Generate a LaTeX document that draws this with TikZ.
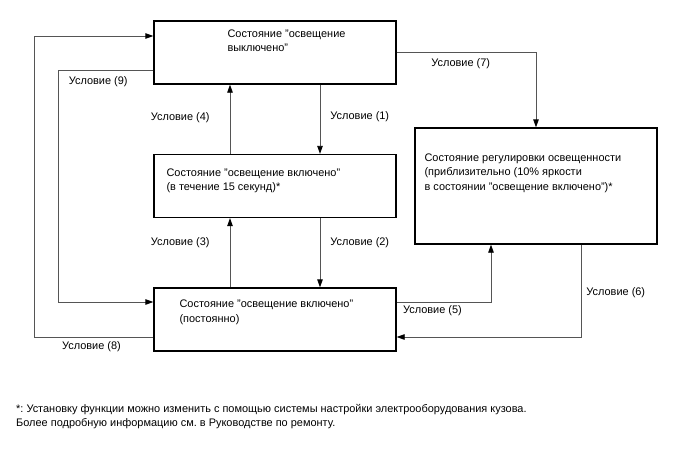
\documentclass[tikz,border=0pt]{standalone}
\usepackage{fontspec}
\setmainfont{Liberation Sans}
\usepackage{tikz}
\usetikzlibrary{positioning,arrows.meta}
\definecolor{wire}{HTML}{555555}
\frenchspacing

\begin{document}
\begin{tikzpicture}[x=1pt,y=-1pt,
  font=\fontsize{10.95}{14.5}\selectfont,
  >={Triangle[length=8pt,width=5.5pt,color=black]},
  state/.style={draw=black,line width=1.3pt,minimum width=242pt,minimum height=63pt,inner sep=0pt},
  stxt/.style={anchor=north west,align=left,inner sep=0pt},
  trans/.style={draw=wire,line width=0.8pt},
  cond/.style={inner sep=0pt},
  ]
  \useasboundingbox (0,0) rectangle (688,463);

  % ---- states ----
  \node[state] (off)  at (275,52.5)  {};
  \node[state] (on15) at (275,186)   {};
  \node[state] (on)   at (275,319.5) {};
  \node[state,minimum height=116pt] (dim) at (536,186) {};

  \node[stxt] (offtxt)  at ([xshift=74pt,yshift=-9pt]off.north west)
     {Состояние "освещение\\выключено"};
  \node[stxt] (on15txt) at ([xshift=13pt,yshift=-14.5pt]on15.north west)
     {Состояние "освещение включено"\\(в течение 15 секунд)*};
  \node[stxt] (ontxt)   at ([xshift=26pt,yshift=-12.5pt]on.north west)
     {Состояние "освещение включено"\\(постоянно)};
  \node[stxt] (dimtxt)  at ([xshift=10pt,yshift=-26pt]dim.north west)
     {Состояние регулировки освещенности\\(приблизительно (10\% яркости\\в состоянии "освещение включено")*};

  % ---- vertical transitions ----
  \draw[trans,->] ([xshift=45pt]off.south) -- node[cond,right=10pt,pos=0.46]{Условие (1)} ([xshift=45pt]on15.north);
  \draw[trans,->] ([xshift=-45pt]on15.north) -- node[cond,left=20pt,pos=0.53]{Условие (4)} ([xshift=-45pt]off.south);
  \draw[trans,->] ([xshift=45pt]on15.south) -- node[cond,right=10pt,pos=0.36]{Условие (2)} ([xshift=45pt]on.north);
  \draw[trans,->] ([xshift=-45pt]on.north) -- node[cond,left=20pt,pos=0.64]{Условие (3)} ([xshift=-45pt]on15.south);

  % ---- outer loops ----
  \draw[trans,->] ([yshift=-17.5pt]off.west) -- node[cond,below=6pt,pos=0.58]{Условие (9)} ++(-95,0)
        |- ([yshift=17.5pt]on.west);
  \draw[trans,->] ([yshift=-17.5pt]on.west) -- node[cond,below=4pt,pos=0.52]{Условие (8)} ++(-119,0)
        |- ([yshift=16.5pt]off.west);

  % ---- dimming state ----
  \draw[trans,->] (off.east) -| node[cond,below=5.5pt,pos=0.23]{Условие (7)} (dim.north);
  \draw[trans,->] ([yshift=17.5pt]on.east) -| node[cond,below=3pt,pos=0.19]{Условие (5)} ([xshift=-45pt]dim.south);
  \draw[trans,->] ([xshift=45pt]dim.south) |- node[cond,right=5pt,pos=0.26]{Условие (6)} ([yshift=-17.5pt]on.east);

  % ---- footnote ----
  \node[stxt] (note) at (16,404)
     {*: Установку функции можно изменить с помощью системы настройки электрооборудования кузова.\\Более подробную информацию см. в Руководстве по ремонту.};
\end{tikzpicture}
\end{document}
